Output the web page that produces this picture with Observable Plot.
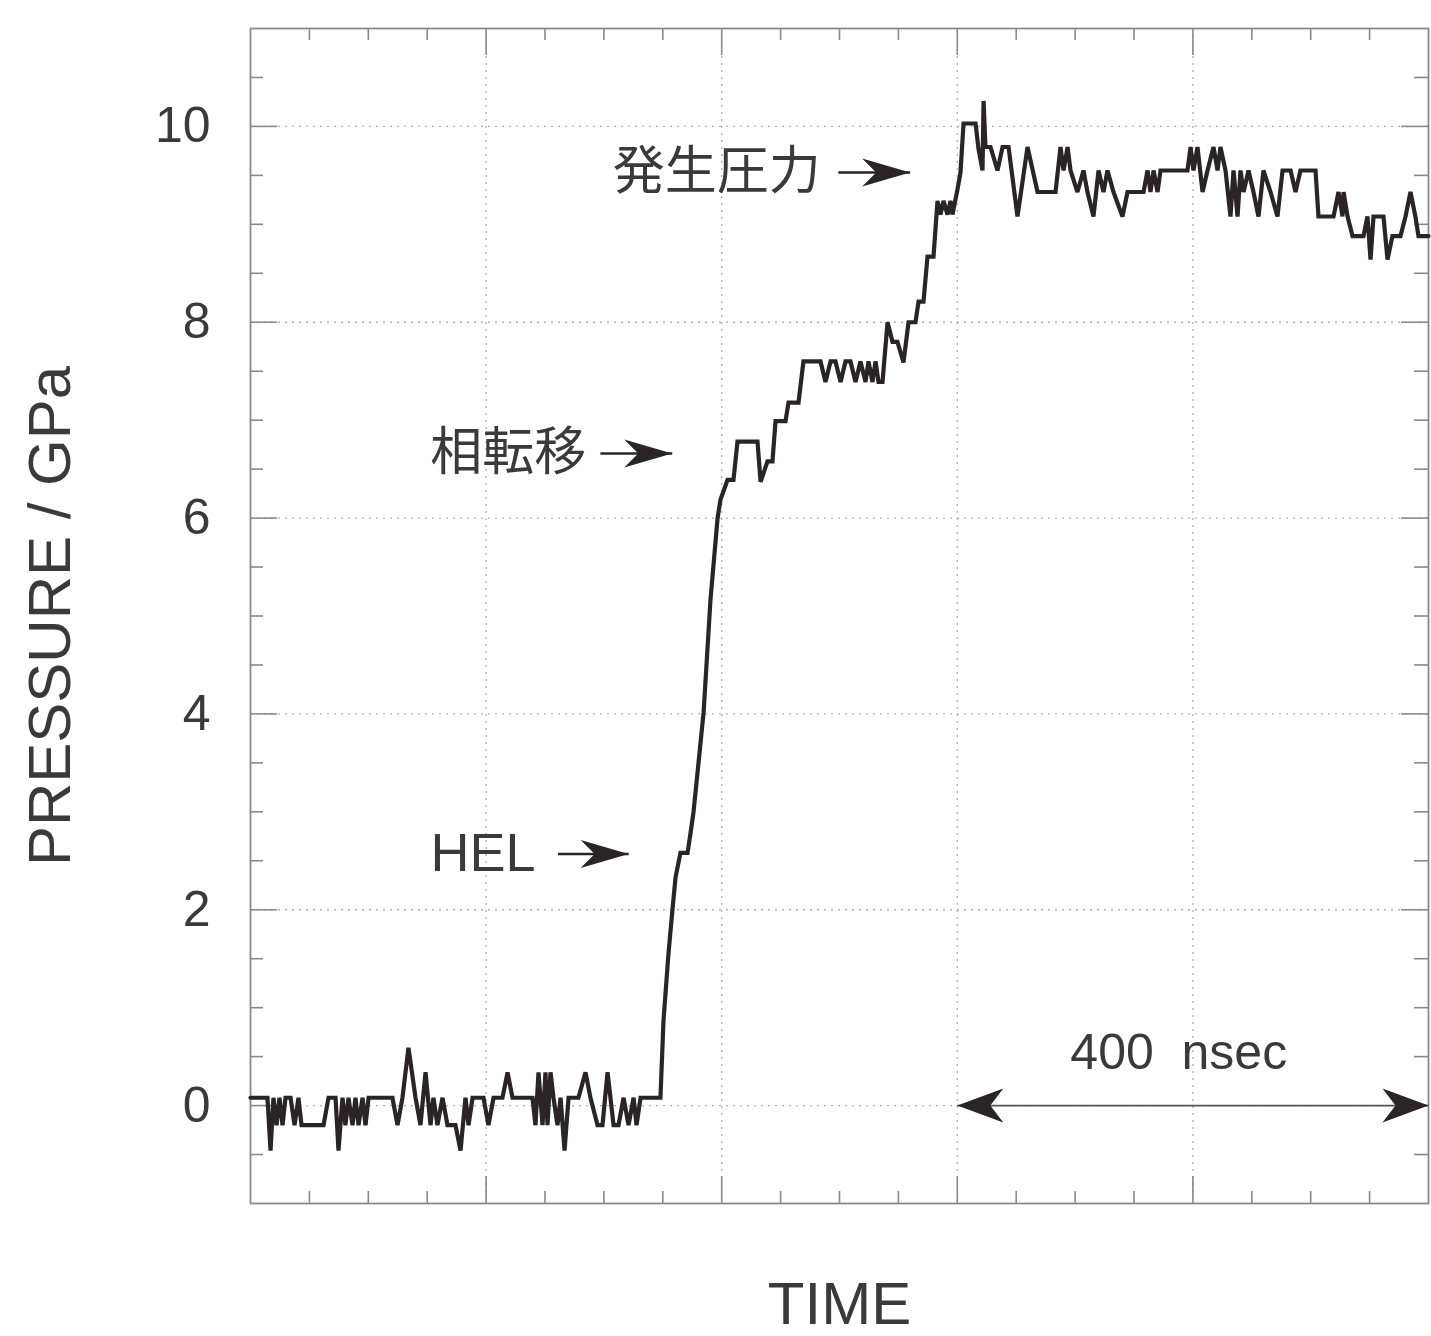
<!DOCTYPE html>
<html><head><meta charset="utf-8">
<script src="https://cdn.jsdelivr.net/npm/d3@7"></script>
<script src="https://cdn.jsdelivr.net/npm/@observablehq/plot@0.6"></script>
<style>html,body{margin:0;padding:0;background:#fff;overflow:hidden}</style>
</head><body><div id="chart"></div>
<script>
// Pressure trace: [time (ns), pressure (GPa)]
const trace = [
[0,0.08],[14.4,0.08],[17.0,-0.46],[19.5,0.08],[22.1,-0.20],[24.6,0.08],[27.2,-0.20],[29.7,0.08],[34.0,0.08],[37.4,-0.20],
[40.7,0.08],[43.3,-0.20],[46.7,-0.20],[62.0,-0.20],[66.2,0.08],[72.2,0.08],[74.7,-0.46],[78.1,0.08],[80.6,-0.20],[83.2,0.08],
[86.6,-0.20],[89.1,0.08],[91.7,-0.20],[95.1,0.08],[97.6,-0.20],[100.2,0.08],[120.5,0.08],[124.8,-0.20],[129.0,0.08],[134.1,0.59],
[140.1,0.08],[144.3,-0.20],[148.6,0.34],[152.8,-0.20],[155.3,0.08],[158.7,-0.20],[163.0,0.08],[167.2,-0.20],[169.8,-0.20],[174.0,-0.20],
[178.3,-0.46],[182.5,0.08],[185.1,-0.20],[188.5,0.08],[197.8,0.08],[202.0,-0.20],[206.3,0.08],[213.9,0.08],[218.2,0.34],[222.4,0.08],
[239.4,0.08],[241.9,-0.20],[244.5,0.34],[247.9,-0.20],[250.4,0.34],[252.1,-0.20],[254.7,0.34],[257.2,0.08],[260.6,-0.20],[263.2,0.08],
[266.6,-0.46],[270.0,0.08],[278.4,0.08],[284.4,0.34],[288.6,0.08],[294.6,-0.20],[298.8,-0.20],[303.1,0.34],[308.2,-0.20],[312.4,-0.20],
[316.7,0.08],[320.9,-0.20],[325.2,0.08],[327.7,-0.20],[331.1,0.08],[348.0,0.08],
[350.6,0.87],[354.8,1.55],[358.2,2.00],[360.8,2.33],[365.0,2.58],[371.0,2.58],[373.5,2.78],[376.1,3.00],[384.6,4.01],[390.5,5.17],
[396.5,6.00],[399.0,6.19],[405.0,6.39],[410.0,6.39],[413.4,6.78],[430.4,6.78],[433.0,6.37],[438.9,6.58],[443.1,6.58],[445.7,6.99],
[454.2,6.99],[456.7,7.18],[465.2,7.18],[469.4,7.60],[483.9,7.60],
[488.1,7.39],[492.4,7.60],[496.6,7.60],[500.9,7.39],[505.1,7.60],[509.3,7.60],[513.6,7.39],[517.8,7.60],[522.1,7.39],[524.6,7.60],
[528.0,7.39],[530.6,7.60],[533.1,7.39],[536.5,7.39],
[540.8,8.00],[545.0,7.80],[549.2,7.80],[554.3,7.59],[558.6,8.00],[564.5,8.00],[567.1,8.21],[571.3,8.21],[574.7,8.67],[579.8,8.67],
[583.2,9.24],[585.7,9.10],[588.3,9.24],[591.7,9.10],[594.2,9.24],[595.9,9.10],[600.2,9.36],[602.7,9.53],[605.3,10.03],
[615.5,10.03],[618.0,9.77],[621.4,9.55],[622.3,10.26],[623.9,9.79],[628.2,9.79],[634.1,9.55],[638.4,9.79],[643.5,9.79],[651.1,9.08],
[659.6,9.79],[668.1,9.33],[683.4,9.33],[687.6,9.79],[690.2,9.55],[693.6,9.79],[696.1,9.55],[702.0,9.33],[707.1,9.55],[710.5,9.33],
[715.6,9.08],[719.9,9.55],[724.1,9.33],[727.5,9.55],[732.6,9.33],[740.2,9.08],[744.5,9.33],[758.1,9.33],[761.5,9.55],[764.0,9.33],
[766.6,9.55],[770.0,9.33],[772.5,9.55],[795.4,9.55],
[798.0,9.79],[800.5,9.55],[803.9,9.79],[808.2,9.33],[812.4,9.55],[817.5,9.79],[820.9,9.55],[823.4,9.79],[827.7,9.55],[831.9,9.08],
[834.5,9.55],[837.9,9.08],[840.4,9.55],[843.0,9.33],[847.2,9.55],[851.4,9.33],[855.7,9.08],[859.9,9.55],[865.9,9.33],[871.8,9.08],
[876.1,9.55],[882.9,9.55],[887.1,9.33],[891.3,9.55],[904.1,9.55],[906.6,9.08],[919.4,9.08],[923.6,9.33],[927.0,9.08],[927.9,9.33],
[931.3,9.08],[935.5,8.88],[944.8,8.88],[948.2,9.08],[950.8,8.64],[953.3,9.08],[961.8,9.08],[965.2,8.64],[969.4,8.88],[976.2,8.88],
[980.5,9.08],[984.7,9.33],[988.9,9.08],[991.5,8.88],[1000,8.88]
];

const yMajor = [0, 2, 4, 6, 8, 10];
const yTickLabels = ["0", "2", "4", "6", "8", "10"];
const yMinor = [-0.5, 0.5, 1, 1.5, 2.5, 3, 3.5, 4.5, 5, 5.5, 6.5, 7, 7.5, 8.5, 9, 9.5, 10.5];
const xMajor = [200, 400, 600, 800];
const xMinor = [50, 100, 150, 250, 300, 350, 450, 500, 550, 650, 700, 750, 850, 900, 950];

// callouts: label, its right end (ns), arrow from/to (ns), level (GPa)
const callouts = [
  {text: "発生圧力", xText: 484, x1: 499, x2: 560, y: 9.53, size: 52},
  {text: "相転移",   xText: 285, x1: 297, x2: 358, y: 6.66, size: 52},
  {text: "HEL",      xText: 242, x1: 261, x2: 321, y: 2.57, size: 54}
];
const span = [{label: "400\u00a0\u00a0nsec", x1: 600, x2: 1000, y: 0.0, labelX: 788, labelY: 0.54}];

const W = 1431, H = 1336, mL = 250, mR = 3, mT = 28, mB = 133;
const iw = W - mL - mR, ih = H - mT - mB;
const FONT = "'Liberation Sans', Arimo, Helvetica, Arial, 'Noto Sans CJK JP', sans-serif";
const ink = "#2b2427", gray = "#8a8a8a", txt = "#3a3a3a";

const data = trace.map(([t, p]) => ({t, p}));

const headSmall = {draw(c) { c.moveTo(0, 0); c.lineTo(-48, -14); c.lineTo(-34, 0); c.lineTo(-48, 14); c.closePath(); }};
const headBig = {draw(c) { c.moveTo(0, 0); c.lineTo(-46, -17); c.lineTo(-33, 0); c.lineTo(-46, 17); c.closePath(); }};

const chart = Plot.plot({
  width: W, height: H,
  marginLeft: mL, marginRight: mR, marginTop: mT, marginBottom: mB,
  style: {background: "#fff", fontFamily: FONT},
  x: {domain: [0, 1000], axis: null},
  y: {domain: [-1, 11], axis: null},
  marks: [
    Plot.ruleY(yMajor, {stroke: "#b0b0b0", strokeWidth: 1.3, strokeDasharray: "2,5"}),
    Plot.ruleX(xMajor, {stroke: "#b0b0b0", strokeWidth: 1.3, strokeDasharray: "2,5"}),
    // y ticks left / right
    Plot.tickY(yMajor, {y: d => d, insetRight: iw - 27, stroke: gray, strokeWidth: 1.6}),
    Plot.tickY(yMinor, {y: d => d, insetRight: iw - 13, stroke: gray, strokeWidth: 1.6}),
    Plot.tickY(yMajor, {y: d => d, insetLeft: iw - 27, stroke: gray, strokeWidth: 1.6}),
    Plot.tickY(yMinor, {y: d => d, insetLeft: iw - 14, stroke: gray, strokeWidth: 1.6}),
    // x ticks bottom / top
    Plot.tickX(xMajor, {x: d => d, insetTop: ih - 27, stroke: gray, strokeWidth: 1.6}),
    Plot.tickX(xMinor, {x: d => d, insetTop: ih - 12, stroke: gray, strokeWidth: 1.6}),
    Plot.tickX(xMajor, {x: d => d, insetBottom: ih - 27, stroke: gray, strokeWidth: 1.6}),
    Plot.tickX(xMinor, {x: d => d, insetBottom: ih - 12, stroke: gray, strokeWidth: 1.6}),
    Plot.frame({stroke: gray, strokeWidth: 1.8}),
    // tick labels
    Plot.text(yMajor, {y: d => d, frameAnchor: "left", dx: -40, textAnchor: "end", lineAnchor: "middle",
      text: (d, i) => yTickLabels[i], fontSize: 50, fill: txt}),
    Plot.text(["PRESSURE / GPa"], {frameAnchor: "left", dx: -200, rotate: -90, textAnchor: "middle",
      lineAnchor: "middle", fontSize: 60, fill: txt}),
    Plot.text(["TIME"], {frameAnchor: "bottom", dy: 101, textAnchor: "middle", lineAnchor: "middle",
      fontSize: 60, fill: txt}),
    // the trace
    Plot.line(data, {x: "t", y: "p", stroke: ink, strokeWidth: 4.2, strokeLinejoin: "miter", strokeMiterlimit: 3}),
    // callouts
    Plot.text(callouts, {x: "xText", y: "y", text: "text", textAnchor: "end", fontSize: d => d.size, fill: txt}),
    Plot.link(callouts, {x1: "x1", x2: "x2", y1: "y", y2: "y", stroke: ink, strokeWidth: 2.4}),
    Plot.dot(callouts, {x: "x2", y: "y", symbol: headSmall, fill: ink, stroke: "none"}),
    // 400 nsec span
    Plot.link(span, {x1: "x1", x2: "x2", y1: "y", y2: "y", stroke: "#555", strokeWidth: 1.6}),
    Plot.dot(span, {x: "x2", y: "y", symbol: headBig, fill: ink, stroke: "none"}),
    Plot.dot(span, {x: "x1", y: "y", symbol: headBig, rotate: 180, fill: ink, stroke: "none"}),
    Plot.text(span, {x: "labelX", y: "labelY", text: "label", fontSize: 50, fill: txt})
  ]
});
document.getElementById("chart").appendChild(chart);
</script>
</body></html>
